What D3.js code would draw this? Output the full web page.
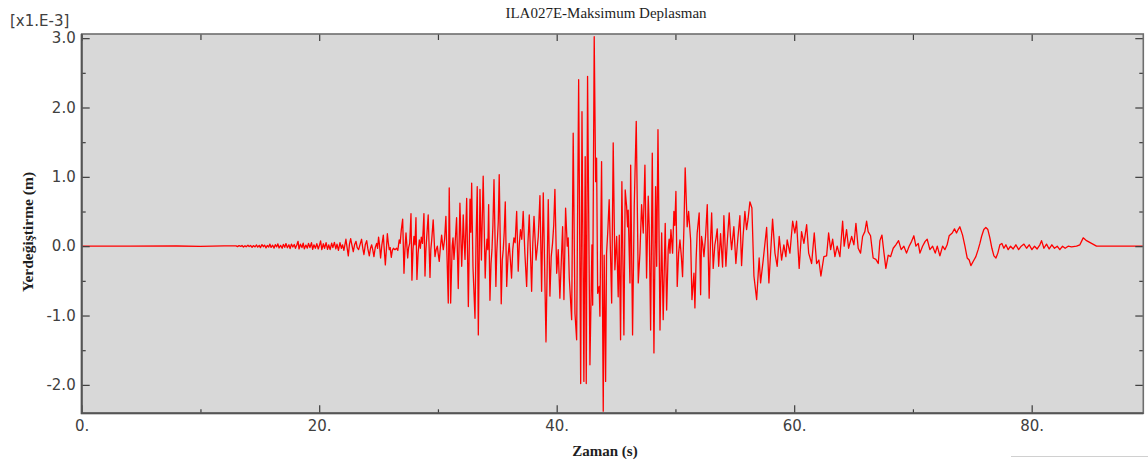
<!DOCTYPE html>
<html>
<head>
<meta charset="utf-8">
<script src="https://cdn.jsdelivr.net/npm/d3@7"></script>
<style>
  html, body { margin: 0; padding: 0; background: #ffffff; }
  svg { display: block; }
</style>
</head>
<body>
<svg id="chart" width="1148" height="465"></svg>
<script>
// Texts
const chartTitle = "ILA027E-Maksimum Deplasman";
const xTitle = "Zaman (s)";
const yTitle = "Yerdeğiştirme (m)";
const yMultiplier = "[x1.E-3]";

// Axis ticks
const xMajorTicks = [0, 20, 40, 60, 80];
const xTickLabels = ["0.", "20.", "40.", "60.", "80."];
const xMinorTicks = [10, 30, 50, 70];
const yMajorTicks = [3, 2, 1, 0, -1, -2];
const yTickLabels = ["3.0", "2.0", "1.0", "0.0", "-1.0", "-2.0"];
const yMinorTicks = [2.5, 1.5, 0.5, -0.5, -1.5];

// Axis extents
const timeExtent = [0, 89.4];
const dispExtent = [-2.41, 3.06];

// Displacement record: [time (s), displacement (x1.E-3 m)]
const record = [
  [0, 0], [4, 0], [8, 0.003], [10, -0.003], [12, 0.004],
  [13.0, 0.004], [13.12, -0.006], [13.25, 0.008], [13.4, -0.004], [13.5, 0.01], [13.62, -0.012],
  [13.75, 0.006], [13.85, -0.008], [14.0, 0.014], [14.1, -0.006], [14.22, 0.01], [14.35, -0.016],
  [14.45, 0.008], [14.6, -0.01], [14.72, 0.018], [14.82, -0.014], [14.95, 0.012], [15.05, -0.02],
  [15.18, 0.022], [15.3, -0.008], [15.4, 0.016], [15.52, -0.024], [15.63, 0.01], [15.75, -0.012],
  [15.85, 0.03], [15.95, -0.018], [16.08, 0.014], [16.2, -0.028], [16.3, 0.022], [16.42, -0.01],
  [16.52, 0.034], [16.62, -0.026], [16.75, 0.012], [16.88, -0.03], [16.98, 0.026], [17.1, -0.016],
  [17.2, 0.038], [17.32, -0.022], [17.45, 0.02], [17.55, -0.036], [17.66, 0.03], [17.78, -0.012],
  [17.9, 0.024], [18.0, -0.03], [18.12, 0.02], [18.22, 0.07], [18.3, -0.04], [18.42, 0.028],
  [18.55, -0.02], [18.65, 0.045], [18.75, -0.038], [18.88, 0.016], [19.0, -0.028], [19.1, 0.04],
  [19.22, -0.02], [19.35, 0.05], [19.45, -0.045], [19.56, 0.02], [19.68, -0.03], [19.8, 0.036],
  [19.92, -0.04], [20.05, 0.03], [20.12, 0.075], [20.22, -0.05], [20.35, 0.035], [20.45, -0.03],
  [20.58, 0.05], [20.7, -0.045], [20.8, 0.02], [20.92, -0.05], [21.05, 0.045], [21.15, -0.02],
  [21.28, 0.055], [21.4, -0.04], [21.5, 0.03], [21.62, -0.06], [21.75, 0.05], [21.87, -0.03],
  [21.97, 0.02], [22.08, -0.06],
  [22.25, 0.10], [22.35, -0.02], [22.45, -0.14], [22.55, 0.03], [22.65, 0.11], [22.76, 0.01],
  [22.87, -0.08], [22.98, 0.02], [23.1, 0.07], [23.2, -0.02], [23.32, -0.05], [23.45, 0.03],
  [23.57, 0.10], [23.67, -0.03], [23.77, -0.12], [23.88, 0.02], [24.0, 0.08], [24.1, -0.04],
  [24.22, -0.14], [24.32, -0.03], [24.42, 0.02], [24.52, -0.06], [24.61, -0.15], [24.72, -0.02],
  [24.84, 0.04], [24.92, -0.03], [25.0, 0.13], [25.08, 0.02], [25.17, -0.17], [25.28, 0.02],
  [25.4, 0.16], [25.48, -0.05], [25.57, -0.27], [25.66, -0.04], [25.74, 0.18], [25.82, 0.05],
  [25.9, -0.05], [25.98, -0.02], [26.07, -0.16], [26.16, -0.06], [26.25, -0.03], [26.38, -0.05],
  [26.52, -0.03], [26.62, -0.06], [26.74, 0.09], [26.82, 0.04], [26.91, 0.23],
  [27.03, 0.39], [27.14, -0.39], [27.22, -0.05], [27.31, 0.19], [27.38, 0.02], [27.45, -0.17],
  [27.53, -0.02], [27.62, 0.04], [27.73, 0.47], [27.81, -0.49], [27.9, -0.05], [27.98, 0.14],
  [28.06, 0.02], [28.15, 0.41], [28.23, -0.48], [28.33, -0.10], [28.43, 0.09], [28.52, -0.03],
  [28.6, 0.13], [28.7, 0.04], [28.82, 0.47], [28.91, -0.43], [28.98, -0.08], [29.05, 0.12],
  [29.18, 0.45], [29.33, -0.45], [29.4, -0.05], [29.47, 0.08], [29.6, 0.38], [29.75, -0.15],
  [29.85, -0.05], [29.95, 0], [30.03, -0.12], [30.11, -0.22], [30.2, -0.03], [30.31, 0.16],
  [30.38, 0.04], [30.45, -0.05], [30.56, 0.10], [30.67, 0.43], [30.87, -0.82], [30.95, 0.84],
  [31.07, -0.82], [31.2, 0], [31.27, 0.12], [31.35, -0.19], [31.45, 0.05], [31.57, 0.41],
  [31.71, -0.61], [31.85, 0.62], [32.0, -0.29], [32.07, 0.05], [32.13, 0.45], [32.2, 0.10],
  [32.28, -0.19], [32.42, 0.69], [32.56, -0.87], [32.7, 0.68], [32.77, 0.20], [32.84, 0.91],
  [32.95, -0.30], [33.12, -1.04], [33.21, 0.10], [33.31, 0.86], [33.4, -1.28], [33.54, 0.82],
  [33.66, -0.20], [33.81, 1.01], [33.98, -0.46], [34.05, -0.10], [34.13, 0.10], [34.2, -0.05],
  [34.27, 0.60], [34.38, -0.78], [34.47, -0.25], [34.55, -0.05], [34.63, 0.30], [34.72, 0.96],
  [34.88, -0.58], [34.95, -0.10], [35.02, 0.14], [35.08, 0.35], [35.16, 1.03], [35.33, -0.83],
  [35.42, -0.20], [35.5, -0.05], [35.58, 0.20], [35.67, 0.64], [35.79, -0.58], [35.9, -0.15],
  [36.0, 0.04], [36.1, -0.20], [36.2, -0.46], [36.3, -0.05], [36.4, 0.12], [36.5, 0.05],
  [36.63, 0.50], [36.76, -0.36], [36.85, 0.02], [36.95, 0.24], [37.06, 0.10], [37.18, 0.50],
  [37.32, -0.10], [37.47, -0.58], [37.58, 0.05], [37.69, 0.45], [37.79, -0.10], [37.89, -0.65],
  [37.99, 0.05], [38.09, 0.43], [38.18, 0.10], [38.26, -0.20], [38.35, -0.05], [38.45, 0.14],
  [38.59, 0.73], [38.73, -0.65], [38.87, 0.77], [39.1, -1.38], [39.29, 0.67], [39.43, -0.72],
  [39.54, -0.15], [39.65, 0.04], [39.75, 0.30], [39.85, 0.82], [40.0, -0.39], [40.13, -0.05],
  [40.27, -0.75], [40.5, 0.28], [40.61, -0.77], [40.75, 0.55], [40.89, 0], [40.97, 0.12],
  [41.06, -0.46], [41.26, -1.06], [41.39, 1.63], [41.54, -0.97], [41.68, -1.35], [41.85, 2.40],
  [42.02, -1.98], [42.13, 1.94], [42.29, -1.95], [42.4, 1.29], [42.49, -1.98], [42.6, 2.45],
  [42.8, -1.71], [42.97, 0.02], [43.03, -0.85], [43.16, 3.02], [43.28, 0.93], [43.36, 1.27],
  [43.45, -0.68], [43.58, -0.58], [43.64, -1.01], [43.78, 1.22], [43.92, -2.38], [44.0, -0.13],
  [44.12, -1.95], [44.2, -0.10], [44.3, 0.20], [44.42, 0.67], [44.53, -0.10], [44.63, -0.82],
  [44.76, 1.49], [44.9, -0.34], [45.05, 0.14], [45.18, -0.73], [45.27, 0.16], [45.38, -1.35],
  [45.49, 0.93], [45.66, -1.28], [45.77, 0.81], [45.89, 0.57], [45.97, 0.28], [46.02, 0.52],
  [46.17, -0.53], [46.23, 1.17], [46.39, -1.28], [46.53, 0.57], [46.7, 1.80], [46.87, -0.53],
  [47.01, -0.10], [47.15, 0.60], [47.29, 0.19], [47.43, 1.17], [47.57, -0.46], [47.71, 0.72],
  [47.79, 0.28], [47.91, -1.21], [48.05, 1.34], [48.19, -1.54], [48.33, 0.86], [48.42, -0.29],
  [48.53, 1.68], [48.7, -1.21], [48.84, 0.19], [48.97, -1.06], [49.14, 0.33], [49.26, -0.92],
  [49.39, -0.05], [49.47, 0.10], [49.54, -0.10], [49.62, 0.24], [49.76, -0.10], [49.87, 0.50],
  [49.95, 0.30], [50.04, 0.79], [50.15, -0.58], [50.27, -0.10], [50.38, 0.09], [50.5, -0.15],
  [50.6, -0.44], [50.72, 0.30], [50.82, 1.13], [50.99, 0.28], [51.11, 0.50], [51.28, 0.09],
  [51.39, -0.77], [51.56, -0.39], [51.64, -0.89], [51.74, -0.20], [51.83, 0.19], [52.0, 0.48],
  [52.12, -0.70], [52.2, 0.14], [52.3, 0.02], [52.4, -0.15], [52.54, 0.15], [52.68, 0.60],
  [52.84, -0.75], [52.95, 0.05], [53.05, 0.48], [53.18, -0.32], [53.32, 0.02], [53.42, 0.12],
  [53.52, 0.25], [53.64, -0.29], [53.8, 0.18], [53.97, -0.30], [54.08, 0.44], [54.25, -0.29],
  [54.38, 0.10], [54.53, 0.48], [54.63, 0.15], [54.73, -0.05], [54.92, 0.28], [55.09, -0.25],
  [55.25, 0.10], [55.43, 0.44], [55.57, -0.28], [55.7, 0.15], [55.85, 0.50], [55.99, 0.24],
  [56.12, 0.40], [56.27, 0.64], [56.44, 0.55], [56.61, -0.43], [56.84, -0.77], [57.05, -0.17],
  [57.17, -0.53], [57.39, -0.20], [57.68, 0.27], [57.87, -0.53], [58.18, 0.39], [58.38, -0.10],
  [58.57, -0.29], [58.74, 0.14], [58.94, -0.20], [59.13, 0.02], [59.3, -0.15], [59.41, 0.09],
  [59.64, -0.10], [59.87, 0.36], [60.06, 0.19], [60.2, 0.36], [60.42, -0.32], [60.62, 0.21],
  [60.82, 0.04], [61.05, 0.31], [61.22, -0.10], [61.47, -0.25], [61.69, 0.19], [61.89, -0.25],
  [62.08, -0.20], [62.25, -0.43], [62.5, -0.15], [62.73, -0.14], [62.9, 0.19], [63.07, -0.05],
  [63.24, 0.10], [63.43, -0.15], [63.62, 0], [63.85, -0.15], [64.08, 0.36], [64.21, 0],
  [64.41, 0.24], [64.58, -0.03], [64.84, 0.14], [65.03, 0.02], [65.2, 0.33], [65.39, -0.03],
  [65.59, -0.10], [65.76, 0.14], [65.95, 0.21], [66.1, 0.36], [66.23, 0.21], [66.43, 0.15],
  [66.65, -0.17], [66.88, -0.19], [67.08, -0.25], [67.22, 0.08], [67.39, 0.16], [67.55, -0.08],
  [67.72, -0.32], [67.92, -0.13], [68.12, -0.15], [68.34, -0.03], [68.56, 0.02], [68.79, 0.08],
  [69.01, -0.05], [69.24, 0], [69.46, -0.10], [69.68, 0], [69.89, 0.07], [70.08, 0.15],
  [70.25, 0], [70.45, 0.04], [70.59, -0.10], [70.81, 0], [71.03, 0.07], [71.2, 0.10],
  [71.43, -0.05], [71.66, 0], [71.88, -0.10], [72.05, 0], [72.27, -0.14], [72.5, 0],
  [72.69, -0.05], [72.88, 0.02], [73.05, 0.15], [73.31, 0.19], [73.5, 0.25], [73.67, 0.19],
  [73.81, 0.24], [73.95, 0.28], [74.18, 0.16], [74.38, 0], [74.57, -0.17], [74.74, -0.20],
  [74.88, -0.28], [75.07, -0.22], [75.3, -0.15], [75.49, -0.05], [75.64, 0.04], [75.78, 0.14],
  [75.97, 0.24], [76.14, 0.27], [76.31, 0.24], [76.48, 0.12], [76.65, -0.03], [76.82, -0.14],
  [76.99, -0.17], [77.15, -0.10], [77.32, 0.02], [77.49, 0.04], [77.66, -0.03], [77.83, 0.02],
  [78.02, -0.05], [78.22, 0], [78.44, -0.04], [78.67, 0.02], [78.9, -0.05], [79.12, 0],
  [79.35, 0.03], [79.57, -0.03], [79.79, 0.02], [80.02, -0.05], [80.24, 0], [80.46, -0.04],
  [80.69, 0.02], [80.83, 0.08], [81.03, -0.03], [81.25, 0.03], [81.47, -0.04], [81.7, 0.02],
  [81.92, -0.03], [82.15, 0], [82.37, -0.05], [82.6, 0], [82.82, -0.03], [83.07, 0],
  [83.36, -0.01], [83.78, 0], [84.06, 0.02], [84.34, 0.12], [84.62, 0.08], [85.04, 0.04],
  [85.46, 0], [86.02, 0], [89.4, 0]
];

const svg = d3.select("#chart");
const plot = { left: 81.7, top: 34, right: 1143.3, bottom: 413.3 };

const x = d3.scaleLinear().domain(timeExtent).range([plot.left, plot.right]);
const y = d3.scaleLinear().domain(dispExtent).range([plot.bottom, plot.top]);

const tickFont = "'DejaVu Sans', sans-serif";
const serif = "'Liberation Serif', 'Times New Roman', serif";

// Plot background
svg.append("rect")
  .attr("x", plot.left).attr("y", plot.top)
  .attr("width", plot.right - plot.left).attr("height", plot.bottom - plot.top)
  .attr("fill", "#d8d8d8");

// Signal trace
svg.append("clipPath").attr("id", "plot-clip")
  .append("rect")
  .attr("x", plot.left).attr("y", plot.top - 1)
  .attr("width", plot.right - plot.left).attr("height", plot.bottom - plot.top + 2);

const line = d3.line().x(d => x(d[0])).y(d => y(d[1]));
svg.append("path")
  .datum(record)
  .attr("clip-path", "url(#plot-clip)")
  .attr("d", line)
  .attr("fill", "none")
  .attr("stroke", "#ff0000")
  .attr("stroke-width", 1.3)
  .attr("stroke-linejoin", "round");

// Axis helper: inward ticks, no domain path
function drawAxis(axis, tx, ty, withLabels) {
  const g = svg.append("g").attr("transform", `translate(${tx},${ty})`).call(axis);
  g.select(".domain").remove();
  g.selectAll(".tick line").attr("stroke", "#3c3c3c").attr("stroke-width", 1.2);
  if (withLabels) {
    g.selectAll(".tick text")
      .attr("fill", "#404040")
      .style("font-family", tickFont)
      .style("font-size", "15px");
  } else {
    g.selectAll(".tick text").remove();
  }
  return g;
}

// Bottom
drawAxis(d3.axisBottom(x).tickValues(xMajorTicks).tickSize(-8).tickPadding(7)
  .tickFormat((d, i) => xTickLabels[i]), 0, plot.bottom, true);
drawAxis(d3.axisBottom(x).tickValues(xMinorTicks).tickSize(-4), 0, plot.bottom, false);
// Top
drawAxis(d3.axisTop(x).tickValues(xMajorTicks).tickSize(-7), 0, plot.top, false);
drawAxis(d3.axisTop(x).tickValues(xMinorTicks).tickSize(-6), 0, plot.top, false);
// Left
drawAxis(d3.axisLeft(y).tickValues(yMajorTicks).tickSize(-8).tickPadding(6)
  .tickFormat((d, i) => yTickLabels[i]), plot.left, 0, true);
drawAxis(d3.axisLeft(y).tickValues(yMinorTicks).tickSize(-4), plot.left, 0, false);
// Right
drawAxis(d3.axisRight(y).tickValues(yMajorTicks).tickSize(-8), plot.right, 0, false);
drawAxis(d3.axisRight(y).tickValues(yMinorTicks).tickSize(-4), plot.right, 0, false);

// Frame
svg.append("rect")
  .attr("x", plot.left).attr("y", plot.top)
  .attr("width", plot.right - plot.left).attr("height", plot.bottom - plot.top)
  .attr("fill", "none").attr("stroke", "#6e6e6e").attr("stroke-width", 1.6);
svg.append("path")
  .attr("d", `M${plot.left},${plot.top}V${plot.bottom}H${plot.right}`)
  .attr("fill", "none").attr("stroke", "#555555").attr("stroke-width", 2);

// Titles
svg.append("text")
  .attr("x", 606).attr("y", 18)
  .attr("text-anchor", "middle")
  .attr("fill", "#1e1e1e")
  .style("font-family", serif).style("font-size", "15px")
  .text(chartTitle);

svg.append("text")
  .attr("x", 10).attr("y", 26)
  .attr("fill", "#404040")
  .style("font-family", tickFont).style("font-size", "15px")
  .text(yMultiplier);

svg.append("text")
  .attr("transform", "translate(33,232) rotate(-90)")
  .attr("text-anchor", "middle")
  .attr("fill", "#1e1e1e")
  .style("font-family", serif).style("font-size", "15.5px").style("font-weight", "bold")
  .text(yTitle);

svg.append("text")
  .attr("x", 605).attr("y", 456)
  .attr("text-anchor", "middle")
  .attr("fill", "#1e1e1e")
  .style("font-family", serif).style("font-size", "15px").style("font-weight", "bold")
  .text(xTitle);

// Thin separator at the lower right edge of the window
svg.append("line")
  .attr("x1", 1011).attr("x2", 1148).attr("y1", 456.5).attr("y2", 456.5)
  .attr("stroke", "#d0d0d0").attr("stroke-width", 1);
</script>
</body>
</html>
